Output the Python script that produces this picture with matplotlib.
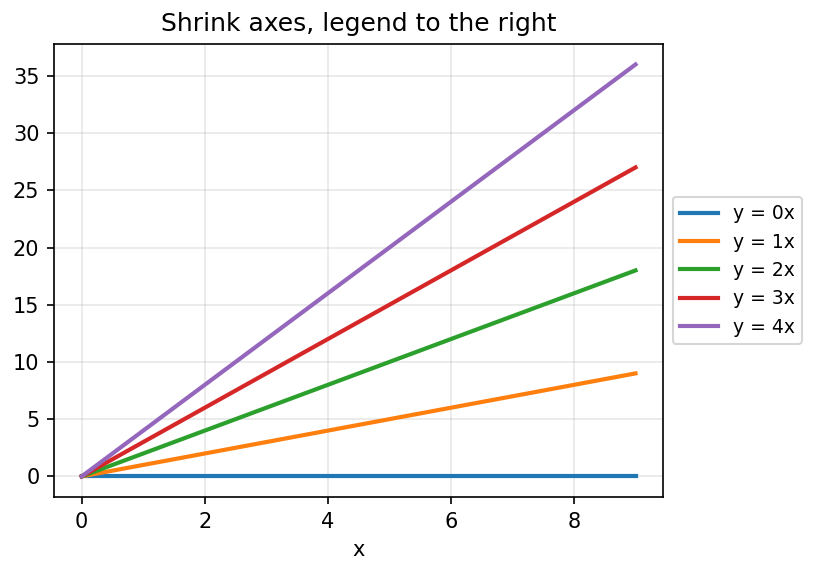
import matplotlib
matplotlib.use("Agg")
import matplotlib.pyplot as plt

# data
x = [0, 1, 2, 3, 4, 5, 6, 7, 8, 9]
y0 = [0, 0, 0, 0, 0, 0, 0, 0, 0, 0]
y1 = [0, 1, 2, 3, 4, 5, 6, 7, 8, 9]
y2 = [0, 2, 4, 6, 8, 10, 12, 14, 16, 18]
y3 = [0, 3, 6, 9, 12, 15, 18, 21, 24, 27]
y4 = [0, 4, 8, 12, 16, 20, 24, 28, 32, 36]
series = [y0, y1, y2, y3, y4]
labels = ["y = 0x", "y = 1x", "y = 2x", "y = 3x", "y = 4x"]

fig = plt.figure(figsize=(821 / 150, 575 / 150), dpi=150)
ax = fig.add_axes([0.0658, 0.1357, 0.742, 0.788])

for ys, lab in zip(series, labels):
    ax.plot(x, ys, linewidth=2, label=lab)

ax.set_title("Shrink axes, legend to the right")
ax.set_xlabel("x")
ax.grid(True, alpha=0.3)
ax.legend(loc="center left", bbox_to_anchor=(1, 0.5), fontsize=9)

fig.savefig("out.png", dpi=150)
